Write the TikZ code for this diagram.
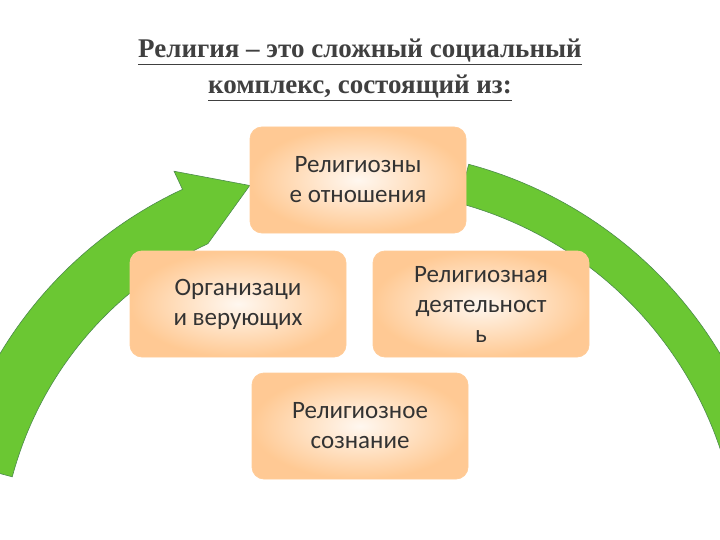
\documentclass[tikz,border=0pt]{standalone}
\usepackage{fontspec}
\usetikzlibrary{calc}
\setmainfont{Liberation Serif}
\newfontfamily\boxfont{Carlito}
\begin{document}
\begin{tikzpicture}[x=1pt,y=-1pt,
  bx/.style={draw=orange!40!white,line width=0.8pt,rounded corners=12pt,minimum width=216pt,minimum height=106pt,inner color=orange!6!white,outer color=orange!42!white,align=center,font=\boxfont\fontsize{25}{30}\selectfont,text=black!80},
  band/.style={fill=green!45!olive!80!white,draw=green!35!black!70,line width=0.6pt}]
\useasboundingbox (0,0) rectangle (720,540);
\coordinate (c) at (360,570);
\begin{scope}
\clip (0,0) rectangle (720,540);
\path[band] (c) ++(-75:420) arc[start angle=-75,end angle=20,radius=420]
  -- ++(20:-40) arc[start angle=20,end angle=-75,radius=380] -- cycle;
\path[band] (c) ++(-165:420) arc[start angle=-165,end angle=-115,radius=420]
  -- ++(-115:20) -- ($(c)+(-106:400)$) -- ($(c)+(-115:360)$)
  arc[start angle=-115,end angle=-165,radius=360] -- cycle;
\end{scope}
\node[font=\bfseries\fontsize{27}{36}\selectfont,text=black!75,align=center] (t) at (360,70)
  {\underline{Религия – это сложный социальный}\\\underline{комплекс, состоящий из:}};
\node[bx] (b1) at (358,180) {Религиозны\\е отношения};
\node[bx] (b2) at (238,304) {Организаци\\и верующих};
\node[bx] (b3) at (481,304) {Религиозная\\деятельност\\ь};
\node[bx] (b4) at (360,426) {Религиозное\\сознание};
\end{tikzpicture}
\end{document}
